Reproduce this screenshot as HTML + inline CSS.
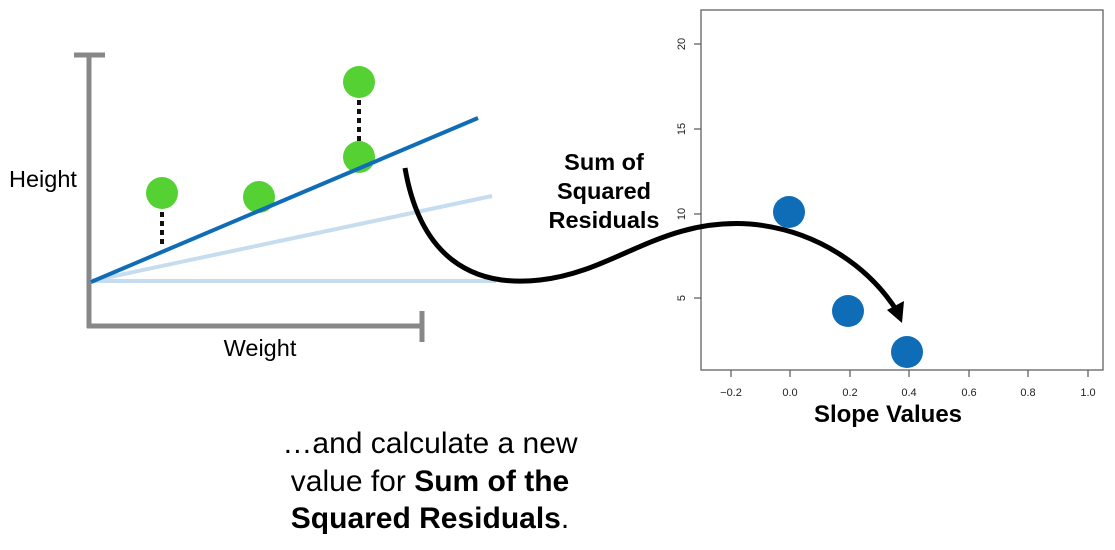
<!DOCTYPE html>
<html><head><style>
body{margin:0;background:#fff;width:1115px;height:550px;overflow:hidden}
svg{display:block}
text{font-family:"Liberation Sans",Arial,sans-serif}
</style></head><body>
<svg width="1115" height="550" viewBox="0 0 1115 550">
<g stroke="#888" stroke-width="5" fill="none">
<line x1="89" y1="55" x2="89" y2="328"/>
<line x1="74" y1="55" x2="105" y2="55"/>
<line x1="87" y1="326" x2="422" y2="326"/>
<line x1="422" y1="311" x2="422" y2="342"/>
</g>
<line x1="91" y1="281" x2="496" y2="281" stroke="#c6dcef" stroke-width="4"/>
<line x1="91" y1="281" x2="492" y2="196" stroke="#c6dcef" stroke-width="4"/>
<g stroke="#111" stroke-width="4" stroke-dasharray="5,4">
<line x1="162" y1="212" x2="162" y2="248"/>
<line x1="359" y1="100" x2="359" y2="142"/>
</g>
<g fill="#55d134">
<circle cx="162" cy="193" r="16"/>
<circle cx="259" cy="197" r="16"/>
<circle cx="359" cy="82" r="16"/>
<circle cx="359" cy="157" r="16"/>
</g>
<line x1="91" y1="282" x2="478" y2="118" stroke="#0f6cb6" stroke-width="4"/>
<text x="9" y="187" font-size="23.5">Height</text>
<text x="260" y="356" font-size="23.5" text-anchor="middle">Weight</text>
<rect x="701" y="10" width="402" height="360" fill="none" stroke="#555" stroke-width="1.2"/>
<g stroke="#555" stroke-width="1.2">
<line x1="731" y1="370" x2="731" y2="377"/><line x1="790" y1="370" x2="790" y2="377"/>
<line x1="850" y1="370" x2="850" y2="377"/><line x1="909" y1="370" x2="909" y2="377"/>
<line x1="969" y1="370" x2="969" y2="377"/><line x1="1028" y1="370" x2="1028" y2="377"/>
<line x1="1088" y1="370" x2="1088" y2="377"/>
<line x1="694" y1="44" x2="701" y2="44"/><line x1="694" y1="129" x2="701" y2="129"/>
<line x1="694" y1="214" x2="701" y2="214"/><line x1="694" y1="298" x2="701" y2="298"/>
</g>
<g font-size="11" fill="#222" text-anchor="middle">
<text x="731" y="396">−0.2</text><text x="790" y="396">0.0</text><text x="850" y="396">0.2</text>
<text x="909" y="396">0.4</text><text x="969" y="396">0.6</text><text x="1028" y="396">0.8</text>
<text x="1088" y="396">1.0</text>
<text transform="translate(685,44) rotate(-90)">20</text>
<text transform="translate(685,129) rotate(-90)">15</text>
<text transform="translate(685,214) rotate(-90)">10</text>
<text transform="translate(685,298) rotate(-90)">5</text>
</g>
<text x="888" y="422" font-size="24" font-weight="bold" text-anchor="middle">Slope Values</text>
<g fill="#0f6cb6">
<circle cx="789" cy="212" r="16"/>
<circle cx="848" cy="311" r="16"/>
<circle cx="907" cy="352" r="16"/>
</g>
<path d="M405,168 C420,255 470,288 540,280 C615,272 660,218 750,224 C820,230 870,270 895,308" fill="none" stroke="#000" stroke-width="5"/>
<polygon points="887,310 904,301 902,323" fill="#000"/>
<g font-size="23.5" font-weight="bold" text-anchor="middle">
<text x="604" y="170">Sum of</text>
<text x="604" y="199">Squared</text>
<text x="604" y="228">Residuals</text>
</g>
<g font-size="30" text-anchor="middle">
<text x="430" y="453">…and calculate a new</text>
<text x="430" y="491">value for <tspan font-weight="bold">Sum of the</tspan></text>
<text x="430" y="528"><tspan font-weight="bold">Squared Residuals</tspan>.</text>
</g>
</svg>
</body></html>
